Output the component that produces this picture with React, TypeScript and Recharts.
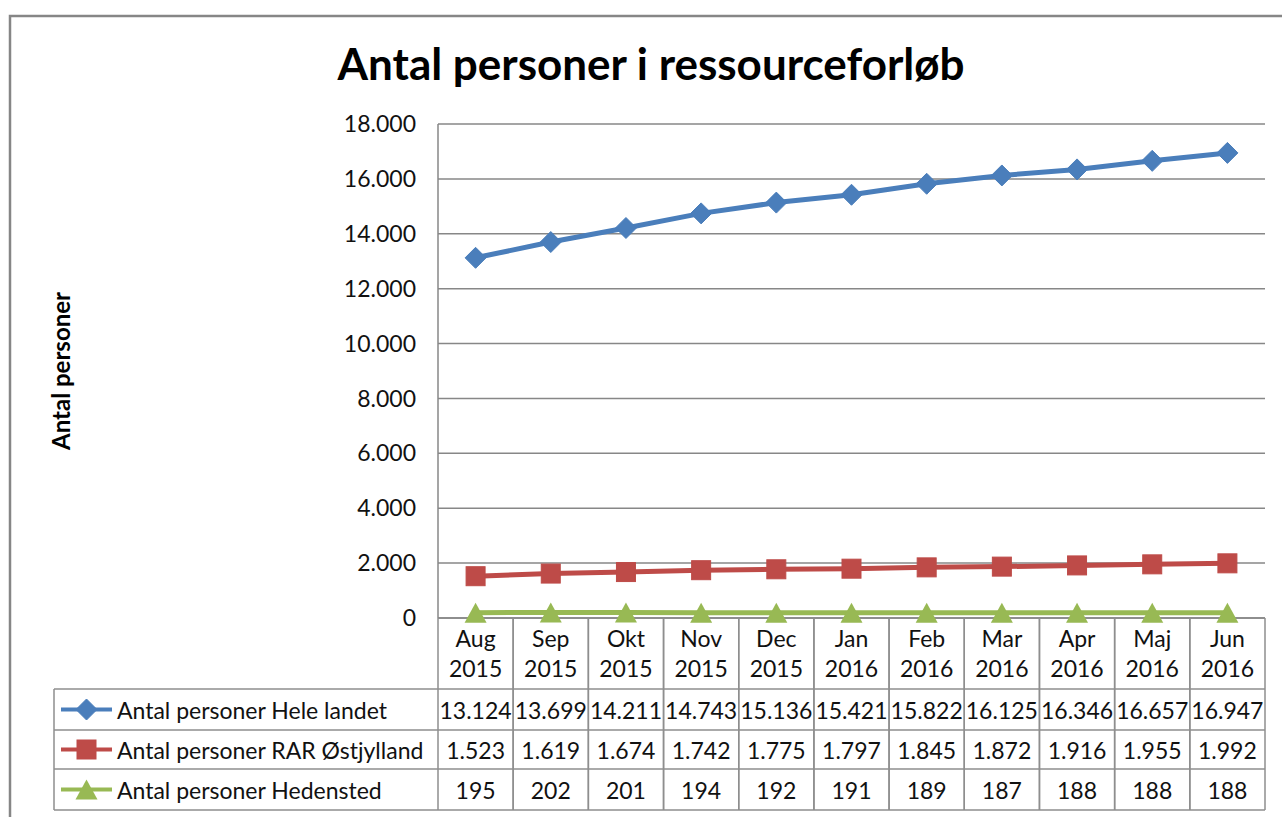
import { LineChart, Line, XAxis, YAxis, CartesianGrid } from 'recharts';

const months = ['Aug', 'Sep', 'Okt', 'Nov', 'Dec', 'Jan', 'Feb', 'Mar', 'Apr', 'Maj', 'Jun'];
const years = ['2015', '2015', '2015', '2015', '2015', '2016', '2016', '2016', '2016', '2016', '2016'];
const heleLandet = [13124, 13699, 14211, 14743, 15136, 15421, 15822, 16125, 16346, 16657, 16947];
const rarOstjylland = [1523, 1619, 1674, 1742, 1775, 1797, 1845, 1872, 1916, 1955, 1992];
const hedensted = [195, 202, 201, 194, 192, 191, 189, 187, 188, 188, 188];
const yTicks = [0, 2000, 4000, 6000, 8000, 10000, 12000, 14000, 16000, 18000];

const seriesNames = [
  'Antal personer Hele landet',
  'Antal personer RAR Østjylland',
  'Antal personer Hedensted',
];
const seriesKeys = ['hele', 'rar', 'hed'];
const seriesValues = [heleLandet, rarOstjylland, hedensted];
const lineColors = ['#4A7EBB', '#BE4B48', '#98B954'];

const data = months.map((m, i) => ({
  month: m,
  year: years[i],
  hele: heleLandet[i],
  rar: rarOstjylland[i],
  hed: hedensted[i],
}));

// layout
const W = 1282;
const H = 817;
const PLOT_L = 438;
const PLOT_R = 1265;
const PLOT_T = 124;
const PLOT_B = 618;
const BAND = (PLOT_R - PLOT_L) / months.length;
const ROWS = [689, 730, 769, 810];
const TABLE_L = 54;
const FONT = 'Lato, "Open Sans", sans-serif';
const FS = 23;
const GRID = '#878787';
const TABLE_LINE = '#8e8e8e';

const fmt = (v: number) => String(v).replace(/\B(?=(\d{3})+(?!\d))/g, '.');

const Marker = ({ kind, cx, cy, color }: any) => {
  if (kind === 0) {
    const r = 10.5;
    return <path d={`M${cx},${cy - r}L${cx + r},${cy}L${cx},${cy + r}L${cx - r},${cy}Z`} fill={color} stroke={color} strokeWidth={1} />;
  }
  if (kind === 1) {
    const s = 9.5;
    return <rect x={cx - s} y={cy - s} width={s * 2} height={s * 2} fill={color} stroke={color} strokeWidth={1} />;
  }
  const w = 11;
  const h = 10;
  return <path d={`M${cx},${cy - h}L${cx + w},${cy + h}L${cx - w},${cy + h}Z`} fill={color} />;
};

const TableTick = (props: any) => {
  const { x, index, payload } = props;
  const left = x - BAND / 2;
  const right = x + BAND / 2;
  return (
    <g>
      <line x1={left} x2={left} y1={PLOT_B} y2={ROWS[3]} stroke={TABLE_LINE} strokeWidth={1.5} />
      <line x1={right} x2={right} y1={PLOT_B} y2={ROWS[3]} stroke={TABLE_LINE} strokeWidth={1.5} />
      <text x={x} y={638} textAnchor="middle" dominantBaseline="central" fontFamily={FONT} fontSize={FS} fill="#111">
        {payload.value}
      </text>
      <text x={x} y={668} textAnchor="middle" dominantBaseline="central" fontFamily={FONT} fontSize={FS} fill="#111">
        {years[index]}
      </text>
      {seriesValues.map((vals, r) => (
        <text
          key={r}
          x={x}
          y={(ROWS[r] + ROWS[r + 1]) / 2}
          textAnchor="middle"
          dominantBaseline="central"
          fontFamily={FONT}
          fontSize={FS}
          fill="#111"
        >
          {fmt(vals[index])}
        </text>
      ))}
    </g>
  );
};

export default function App() {
  return (
    <div style={{ position: 'absolute', left: 0, top: 0, width: W, height: H, background: '#fff' }}>
      <LineChart
        width={W}
        height={H}
        data={data}
        margin={{ top: PLOT_T, right: W - PLOT_R, bottom: H - ROWS[3], left: PLOT_L - 80 }}
      >
        <CartesianGrid horizontal vertical={false} stroke={GRID} strokeWidth={1.5} />
        <XAxis
          dataKey="month"
          height={ROWS[3] - PLOT_B}
          padding={{ left: BAND / 2, right: BAND / 2 }}
          axisLine={{ stroke: GRID, strokeWidth: 1.5 }}
          tickLine={false}
          interval={0}
          tick={<TableTick />}
        />
        <YAxis
          width={80}
          domain={[0, 18000]}
          ticks={yTicks}
          interval={0}
          axisLine={{ stroke: GRID, strokeWidth: 1.5 }}
          tickLine={false}
          tickSize={6}
          tickMargin={16}
          tickFormatter={fmt}
          tick={{ fontFamily: FONT, fontSize: FS, fill: '#111' }}
        />
        {seriesKeys.map((k, i) => (
          <Line
            key={k}
            dataKey={k}
            name={seriesNames[i]}
            stroke={lineColors[i]}
            strokeWidth={5}
            isAnimationActive={false}
            dot={(p: any) => <Marker key={`${k}-${p.index}`} kind={i} cx={p.cx} cy={p.cy} color={lineColors[i]} />}
            activeDot={false}
          />
        ))}
      </LineChart>
      <svg width={W} height={H} style={{ position: 'absolute', left: 0, top: 0, pointerEvents: 'none' }}>
        <rect x={10} y={16} width={W} height={H} fill="none" stroke="#868686" strokeWidth={2.5} />
        <text x={651} y={80} textAnchor="middle" fontFamily={FONT} fontWeight="bold" fontSize={44} fill="#000">
          Antal personer i ressourceforløb
        </text>
        <text
          x={0}
          y={0}
          transform="translate(60,371) rotate(-90)"
          textAnchor="middle"
          dominantBaseline="central"
          fontFamily={FONT}
          fontWeight="bold"
          fontSize={24}
          fill="#000"
        >
          Antal personer
        </text>
        {ROWS.map((y) => (
          <line key={y} x1={TABLE_L} x2={PLOT_R} y1={y} y2={y} stroke={TABLE_LINE} strokeWidth={1.5} />
        ))}
        <line x1={TABLE_L} x2={TABLE_L} y1={ROWS[0]} y2={ROWS[3]} stroke={TABLE_LINE} strokeWidth={1.5} />
        {seriesNames.map((name, i) => {
          const cy = (ROWS[i] + ROWS[i + 1]) / 2;
          return (
            <g key={name}>
              <line x1={61} x2={112} y1={cy} y2={cy} stroke={lineColors[i]} strokeWidth={4} />
              <Marker kind={i} cx={86.5} cy={cy} color={lineColors[i]} />
              <text x={117} y={cy} dominantBaseline="central" fontFamily={FONT} fontSize={FS} fill="#111">
                {name}
              </text>
            </g>
          );
        })}
      </svg>
    </div>
  );
}
